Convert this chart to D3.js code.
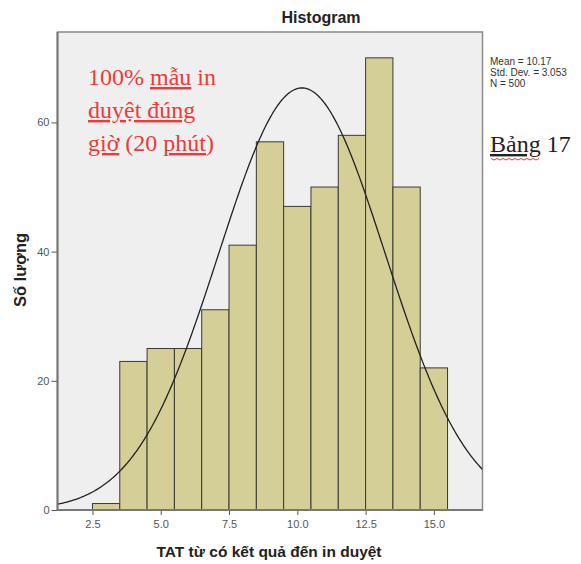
<!DOCTYPE html>
<html>
<head>
<meta charset="utf-8">
<script src="https://cdn.jsdelivr.net/npm/d3@7"></script>
<style>
  body { margin: 0; background: #fff; }
  svg { display: block; }
  .tick text { font-family: "Liberation Sans", Arial, sans-serif; font-size: 11px; fill: #555; }
</style>
</head>
<body>
<div id="chart"></div>
<script>
// bins are 1 unit wide, centred on whole numbers
var binCenters = [3, 4, 5, 6, 7, 8, 9, 10, 11, 12, 13, 14, 15]
var counts = [1, 23, 25, 25, 31, 41, 57, 47, 50, 58, 70, 50, 22]
var binWidth = 1
var xTicks = [2.5, 5.0, 7.5, 10.0, 12.5, 15.0]
var yTicks = [0, 20, 40, 60]
var statLabels = ["Mean = 10.17", "Std. Dev. = 3.053", "N = 500"]
var mean = 10.17, sd = 3.053, n = 500
var noteLines = ["100% mẫu in", "duyệt đúng", "giờ (20 phút)"]

var W = 581, H = 564
var box = { left: 57.5, right: 482.5, top: 32, bottom: 510 }

var svg = d3.select("#chart").append("svg")
    .attr("width", W)
    .attr("height", H)

var x = d3.scaleLinear().domain([1.22, 16.78]).range([box.left, box.right])
var y = d3.scaleLinear().domain([0, 74]).range([box.bottom, box.top])

// plot background
svg.append("rect")
    .attr("x", box.left)
    .attr("y", box.top)
    .attr("width", box.right - box.left)
    .attr("height", box.bottom - box.top)
    .attr("fill", "#efefef")
    .attr("stroke", "#8a8a8a")
    .attr("stroke-width", 1.5)

svg.append("clipPath").attr("id", "clip")
    .append("rect")
    .attr("x", box.left)
    .attr("y", box.top)
    .attr("width", box.right - box.left)
    .attr("height", box.bottom - box.top)

var bins = binCenters.map(function (c, i) { return { c: c, v: counts[i] } })

svg.append("g").selectAll("rect")
    .data(bins)
    .enter().append("rect")
    .attr("x", function (d) { return x(d.c - binWidth / 2) })
    .attr("width", function (d) { return x(d.c + binWidth / 2) - x(d.c - binWidth / 2) })
    .attr("y", function (d) { return y(d.v) })
    .attr("height", function (d) { return y(0) - y(d.v) })
    .attr("fill", "#d3cf97")
    .attr("stroke", "#3a3a32")
    .attr("stroke-width", 1)

// fitted normal curve from the stated mean / sd
var dom = x.domain()
var curvePts = d3.range(dom[0], dom[1] + 0.01, 0.05).map(function (t) {
    var z = (t - mean) / sd
    return [t, n * binWidth * Math.exp(-0.5 * z * z) / (sd * Math.sqrt(2 * Math.PI))]
})
svg.append("path")
    .datum(curvePts)
    .attr("clip-path", "url(#clip)")
    .attr("fill", "none")
    .attr("stroke", "#222")
    .attr("stroke-width", 1.3)
    .attr("d", d3.line().x(d => x(d[0])).y(d => y(d[1])))

// axes
var xAxis = svg.append("g")
    .attr("transform", "translate(0," + box.bottom + ")")
    .call(d3.axisBottom(x).tickValues(xTicks).tickFormat(d3.format(".1f")).tickSize(5).tickPadding(5))
xAxis.select(".domain").remove()
xAxis.selectAll("line").attr("stroke", "#555")

var yAxis = svg.append("g")
    .attr("transform", "translate(" + box.left + ",0)")
    .call(d3.axisLeft(y).tickValues(yTicks).tickSize(6).tickPadding(2))
yAxis.select(".domain").remove()
yAxis.selectAll("line").attr("stroke", "#555")

svg.append("line")
    .attr("x1", box.left).attr("x2", box.left)
    .attr("y1", box.top).attr("y2", box.bottom)
    .attr("stroke", "#777").attr("stroke-width", 2)
svg.append("line")
    .attr("x1", box.left).attr("x2", box.right)
    .attr("y1", box.bottom).attr("y2", box.bottom)
    .attr("stroke", "#777").attr("stroke-width", 2)

// titles
svg.append("text")
    .attr("x", 321)
    .attr("y", 23)
    .attr("text-anchor", "middle")
    .style("font-family", "Liberation Sans, Arial, sans-serif")
    .style("font-size", "16px")
    .style("font-weight", "bold")
    .attr("fill", "#222")
    .text("Histogram")

svg.append("text")
    .attr("x", (box.left + box.right) / 2 - 1)
    .attr("y", 557)
    .attr("text-anchor", "middle")
    .style("font-family", "Liberation Sans, Arial, sans-serif")
    .style("font-size", "15.5px")
    .style("font-weight", "bold")
    .attr("fill", "#222")
    .text("TAT từ có kết quả đến in duyệt")

svg.append("text")
    .attr("transform", "translate(26," + 270 + ") rotate(-90)")
    .attr("text-anchor", "middle")
    .style("font-family", "Liberation Sans, Arial, sans-serif")
    .style("font-size", "16.5px")
    .style("font-weight", "bold")
    .attr("fill", "#222")
    .text("Số lượng")

// stats block
svg.append("g").selectAll("text")
    .data(statLabels)
    .enter().append("text")
    .attr("x", 490)
    .attr("y", (d, i) => 65 + i * 11)
    .style("font-family", "Liberation Sans, Arial, sans-serif")
    .style("font-size", "10px")
    .attr("fill", "#333")
    .text(d => d)

// red note in the plot
var note = svg.append("text")
    .attr("x", 88)
    .style("font-family", "Liberation Serif, Times New Roman, serif")
    .style("font-size", "24px")
    .attr("fill", "#f03a3a")
note.append("tspan").attr("x", 88).attr("y", 85).text("100% ")
note.append("tspan").style("text-decoration", "underline").text("mẫu")
note.append("tspan").text(" in")
note.append("tspan").attr("x", 88).attr("y", 118)
    .style("text-decoration", "underline wavy")
    .text(noteLines[1])
note.append("tspan").attr("x", 88).attr("y", 151)
    .style("text-decoration", "underline").text("giờ")
note.append("tspan").text(" (20 ")
note.append("tspan").style("text-decoration", "underline").text("phút")
note.append("tspan").text(")")

var tag = svg.append("text")
    .attr("x", 490)
    .attr("y", 152)
    .style("font-family", "Liberation Serif, Times New Roman, serif")
    .style("font-size", "24px")
    .attr("fill", "#222")
tag.append("tspan").style("text-decoration", "underline").text("Bảng")
tag.append("tspan").text(" 17")
// red spell-check squiggle
svg.append("path")
    .attr("fill", "none")
    .attr("stroke", "#e33")
    .attr("stroke-width", 1)
    .attr("d", d3.line()(d3.range(0, 17).map(i => [491 + i * 3, 159 + (i % 2 ? 1 : -0.5)])))
</script>
</body>
</html>
